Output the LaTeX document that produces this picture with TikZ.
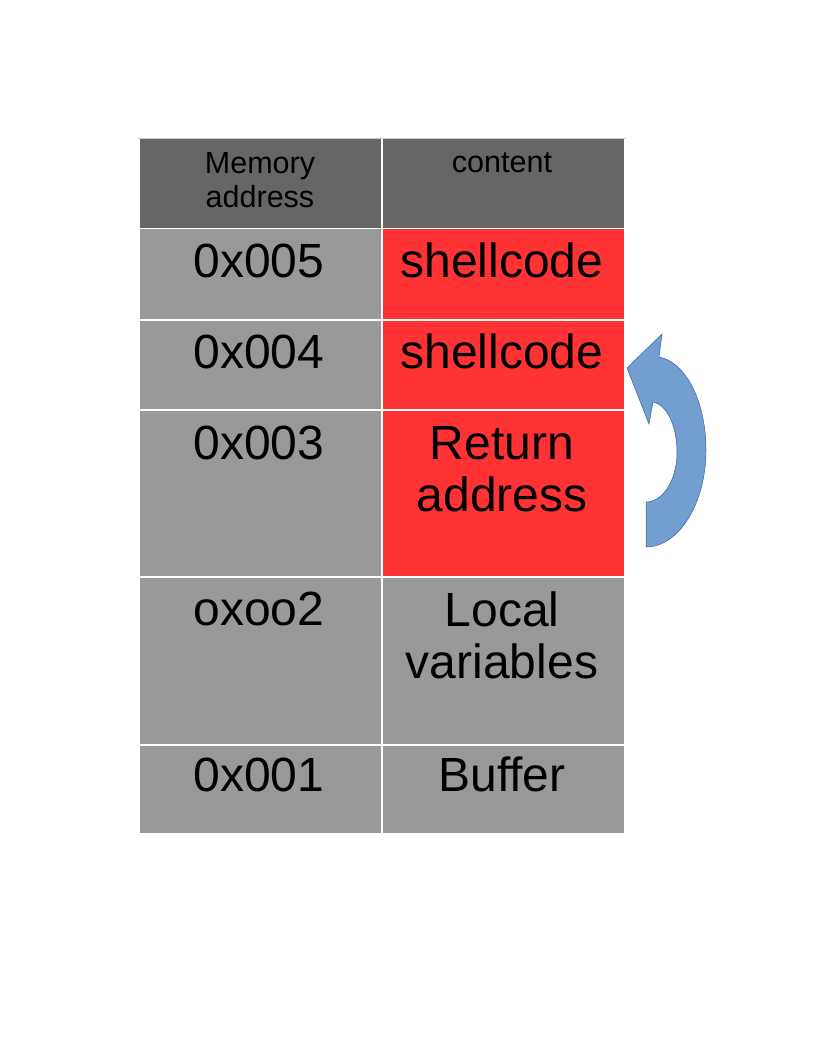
\documentclass[tikz,border=0pt]{standalone}
\usepackage{fontspec}
\setmainfont{Liberation Sans}
\usepackage{xcolor}
\usetikzlibrary{positioning}

\definecolor{headgray}{HTML}{666666}
\definecolor{cellgray}{HTML}{999999}
\definecolor{cellred}{HTML}{FF3333}
\definecolor{arrowblue}{HTML}{729FCF}
\definecolor{arrowline}{HTML}{3465A4}

\tikzset{
  cell/.style={draw=white,line width=1.5pt,anchor=north west,inner sep=0pt,
    minimum width=243pt},
  head/.style={anchor=base,align=center,font=\fontsize{30.5}{34}\selectfont},
  entry/.style={anchor=base,align=center,font=\fontsize{48}{52}\selectfont}
}

\begin{document}
\begin{tikzpicture}[x=1pt,y=-1pt]
    \useasboundingbox (0,0) rectangle (816,1056);
    % table cells
    \node[cell,fill=headgray,minimum height=90pt] (h1) at (138,138) {};
    \node[cell,fill=headgray,minimum height=90pt] (h2) at (381,138) {};
    \node[cell,fill=cellgray,minimum height=91pt] (a5) at (138,228) {};
    \node[cell,fill=cellred,minimum height=91pt] (c5) at (381,228) {};
    \node[cell,fill=cellgray,minimum height=90pt] (a4) at (138,319) {};
    \node[cell,fill=cellred,minimum height=90pt] (c4) at (381,319) {};
    \node[cell,fill=cellgray,minimum height=167pt] (a3) at (138,409) {};
    \node[cell,fill=cellred,minimum height=167pt] (c3) at (381,409) {};
    \node[cell,fill=cellgray,minimum height=168pt] (a2) at (138,576) {};
    \node[cell,fill=cellgray,minimum height=168pt] (c2) at (381,576) {};
    \node[cell,fill=cellgray,minimum height=89pt] (a1) at (138,744) {};
    \node[cell,fill=cellgray,minimum height=89pt] (c1) at (381,744) {};
    \draw[black!20,line width=0.6pt] (h1.north west) -- (h2.north east);
    % texts (base = last line)
    \node[head] (th1) at (260,208) {Memory\\address};
    \node[head] (th2) at (502,173) {content};
    \node[entry] (t5a) at (259,277) {0x005};
    \node[entry] (t5c) at (502,277) {shellcode};
    \node[entry] (t4a) at (259,368) {0x004};
    \node[entry] (t4c) at (502,368) {shellcode};
    \node[entry] (t3a) at (259,459) {0x003};
    \node[entry] (t3c) at (502,511) {Return\\address};
    \node[entry] (t2a) at (259,625) {oxoo2};
    \node[entry] (t2c) at (502,678) {Local\\variables};
    \node[entry] (t1a) at (259,791) {0x001};
    \node[entry] (t1c) at (502,791) {Buffer};
    % curved arrow
    \draw[fill=arrowblue,draw=arrowline,line width=0.5pt]
      (646,547) .. controls (679,547) and (706,503) .. (706,450)
      .. controls (706,402) and (686,362) .. (659,357)
      -- (662,334) -- (627,368) -- (649,424) -- (653,402)
      .. controls (668,405) and (677,428) .. (677,452)
      .. controls (677,480) and (663,502) .. (646,502) -- cycle;
  \end{tikzpicture}
\end{document}
